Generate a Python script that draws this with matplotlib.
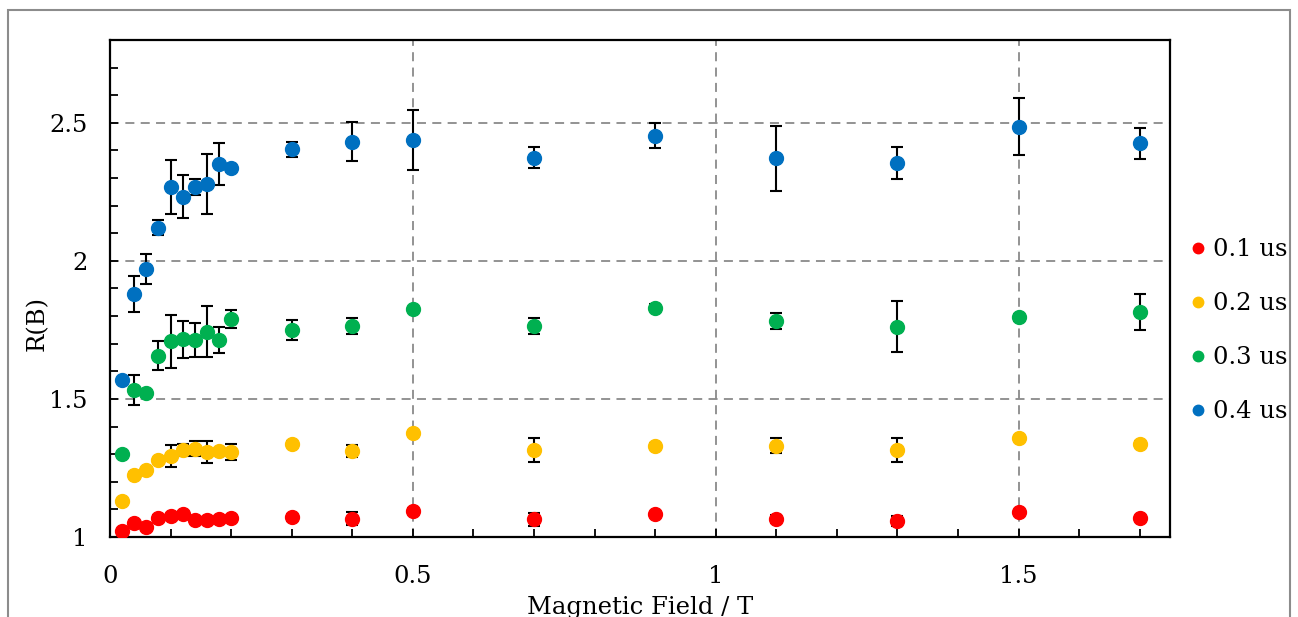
import matplotlib
matplotlib.use("Agg")
import matplotlib.pyplot as plt
from matplotlib.pyplot import MultipleLocator
from matplotlib.patches import Rectangle
from matplotlib.ticker import FuncFormatter

plt.rcParams['font.family'] = 'DejaVu Serif'

# ================= data ====================
B = [0.02, 0.04, 0.06, 0.08, 0.10, 0.12, 0.14, 0.16, 0.18, 0.20,
     0.3, 0.4, 0.5, 0.7, 0.9, 1.1, 1.3, 1.5, 1.7]

r01 = [1.021, 1.050, 1.037, 1.070, 1.076, 1.082, 1.062, 1.062, 1.064, 1.068,
       1.071, 1.066, 1.094, 1.064, 1.082, 1.066, 1.057, 1.089, 1.069]
e01 = [0.005, 0.010, 0.005, 0.008, 0.008, 0.008, 0.008, 0.008, 0.008, 0.008,
       0.012, 0.023, 0.012, 0.024, 0.008, 0.015, 0.018, 0.010, 0.008]

r02 = [1.132, 1.226, 1.243, 1.277, 1.293, 1.315, 1.320, 1.307, 1.310, 1.307,
       1.337, 1.310, 1.377, 1.314, 1.329, 1.331, 1.315, 1.359, 1.337]
e02 = [0.005, 0.010, 0.005, 0.008, 0.040, 0.023, 0.027, 0.039, 0.010, 0.030,
       0.012, 0.022, 0.005, 0.043, 0.012, 0.028, 0.042, 0.005, 0.012]

r03 = [1.300, 1.533, 1.522, 1.657, 1.708, 1.716, 1.714, 1.743, 1.714, 1.789,
       1.750, 1.763, 1.827, 1.764, 1.830, 1.783, 1.762, 1.795, 1.815]
e03 = [0.005, 0.054, 0.005, 0.054, 0.096, 0.067, 0.062, 0.092, 0.047, 0.033,
       0.036, 0.029, 0.005, 0.028, 0.012, 0.028, 0.091, 0.012, 0.065]

r04 = [1.569, 1.880, 1.971, 2.120, 2.268, 2.232, 2.268, 2.279, 2.351, 2.337,
       2.404, 2.432, 2.437, 2.374, 2.453, 2.372, 2.356, 2.486, 2.426]
e04 = [0.005, 0.065, 0.053, 0.028, 0.099, 0.078, 0.030, 0.109, 0.075, 0.015,
       0.027, 0.070, 0.109, 0.037, 0.045, 0.118, 0.058, 0.103, 0.057]

labels = ['0.1 us', '0.2 us', '0.3 us', '0.4 us']
colors = ['#FF0000', '#FFC000', '#00B050', '#0070C0']

fs = 17.5

fig = plt.figure(figsize=(12.98, 6.17), dpi=100)
ax = fig.add_axes([0.0847, 0.1297, 0.8167, 0.8055])

# outer frame of the chart area (bottom is cut off)
fig.patches.append(Rectangle((8 / 1298, -0.1), 1282 / 1298, 1.1 - 10 / 617,
                             transform=fig.transFigure, fill=False,
                             edgecolor='#8c8c8c', linewidth=1.5))

for r, e, c, lab in zip([r01, r02, r03, r04], [e01, e02, e03, e04], colors, labels):
    ax.errorbar(B, r, yerr=e, fmt='none', ecolor='black', elinewidth=1.5,
                capsize=4, capthick=1.5, zorder=3)
    ax.plot(B, r, 'o', color=c, markersize=10, label=lab, zorder=4)

# ================= axes setup ====================
ax.set_xlim(0, 1.75)
ax.set_ylim(1, 2.8)
ax.xaxis.set_major_locator(MultipleLocator(0.5))
ax.xaxis.set_minor_locator(MultipleLocator(0.1))
ax.yaxis.set_major_locator(MultipleLocator(0.5))
ax.yaxis.set_minor_locator(MultipleLocator(0.1))
fmt = FuncFormatter(lambda v, p: '%g' % round(v, 3))
ax.xaxis.set_major_formatter(fmt)
ax.yaxis.set_major_formatter(fmt)

ax.tick_params(which='both', direction='in', length=6, width=1.3, color='black',
               top=False, right=False)
ax.tick_params(axis='x', which='major', labelsize=fs, pad=20)
ax.tick_params(axis='y', which='major', labelsize=fs, pad=16)

for s in ax.spines.values():
    s.set_linewidth(1.6)
    s.set_color('black')

ax.grid(True, which='major', linestyle=(0, (5, 3.5)), color='#8a8a8a', linewidth=1.3)
ax.set_axisbelow(True)

ax.set_xlabel('Magnetic Field / T', fontsize=fs)
ax.xaxis.set_label_coords(0.5, -0.118)
ax.set_ylabel('R(B)', fontsize=fs)
ax.yaxis.set_label_coords(-0.058, 0.43)

fig.legend(loc='center left', bbox_to_anchor=(0.9185, 0.464), frameon=False,
           fontsize=fs, markerscale=0.75, handlelength=0.5, handletextpad=0.35,
           labelspacing=1.27, borderpad=0, borderaxespad=0)

plt.savefig("out.png", dpi=100)
